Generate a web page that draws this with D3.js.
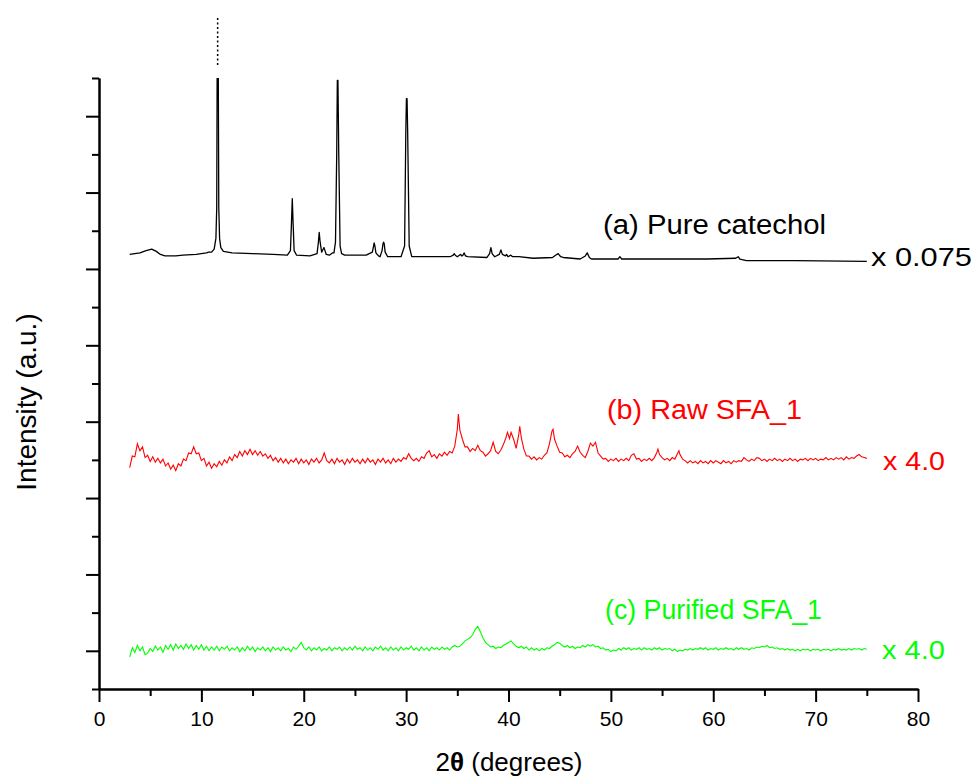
<!DOCTYPE html>
<html>
<head>
<meta charset="utf-8">
<script src="https://cdn.jsdelivr.net/npm/d3@7"></script>
<style>
  html, body { margin: 0; padding: 0; background: #fff; }
  svg { display: block; font-family: "Liberation Sans", Arial, sans-serif; }
</style>
</head>
<body>
<svg id="chart" width="974" height="779"></svg>
<script>
// ---------- data (2θ in degrees, intensity in arbitrary offset units) ----------
const xTicksMajor = [0, 10, 20, 30, 40, 50, 60, 70, 80];
const xTicksMinor = [5, 15, 25, 35, 45, 55, 65, 75];
const yTicksMajor = [0, 100, 200, 300, 400, 500, 600, 700];
const yTicksMinor = [-50, 50, 150, 250, 350, 450, 550, 650, 750];
const markerAngle = 11.59;

const catechol = [
[3.0,519],[4.0,521],[4.6,524],[5.15,526],[5.6,523],[6.0,519],[6.45,517],[7.5,517],[8.2,518],[9.5,519],[10.5,521],[10.7,522],[11.0,522],[11.25,526],[11.42,540],[11.5,580],[11.55,800],[11.64,800],[11.7,580],[11.78,540],[11.9,528],[12.15,523],[13,521],[15,520],[17,519],[18.4,518],[18.7,524],[18.8,560],[18.88,592],[18.96,560],[19.06,524],[19.3,518],[20.6,517],[21.3,520],[21.43,535],[21.51,548],[21.6,535],[21.75,522],[21.9,526],[21.97,528],[22.05,525],[22.2,519],[22.5,518],[22.8,521],[22.95,521],[23.1,535],[23.22,650],[23.28,747],[23.34,747],[23.42,650],[23.55,530],[23.7,520],[24,518],[26.1,518],[26.7,522],[26.82,530],[26.88,534],[26.95,530],[27.05,521],[27.3,517],[27.45,516],[27.65,524],[27.74,533],[27.8,535],[27.86,533],[27.95,522],[28.2,516],[29.5,516],[29.85,530],[29.97,680],[30.03,723],[30.09,723],[30.15,680],[30.3,530],[30.55,516],[34.3,516],[34.6,518],[34.7,520],[34.8,518],[35.0,516],[35.2,518],[35.32,519],[35.45,517],[35.55,518],[35.67,521],[35.8,517],[36.0,516],[37.9,515],[38.15,520],[38.28,528],[38.4,520],[38.65,516],[39.1,519],[39.26,525],[39.4,519],[39.7,517],[39.81,519],[39.95,516],[40.23,518],[40.4,516],[41.0,516],[42.4,514],[44.3,515],[44.6,518],[44.85,520],[45.1,516],[45.35,515],[47.0,513],[47.5,517],[47.69,521],[47.9,515],[48.1,513],[48.9,513],[50.7,513],[50.88,516],[51.05,513],[53,513],[56.7,513],[59.4,513],[62.2,514],[62.43,516],[62.6,513],[63.25,511],[68,511],[75,510]
];

const rawSFA = [
[3.00,240],[3.25,255],[3.50,254],[3.75,271],[4.00,262],[4.25,267],[4.50,253],[4.75,256],[5.00,248],[5.25,254],[5.50,247],[5.75,252],[6.00,246],[6.25,251],[6.50,242],[6.75,246],[7.00,238],[7.25,243],[7.50,236],[7.75,245],[8.00,242],[8.25,251],[8.50,249],[8.75,259],[9.00,258],[9.25,267],[9.50,258],[9.75,259],[10.00,249],[10.25,252],[10.50,242],[10.75,247],[11.00,239],[11.25,245],[11.50,241],[11.75,248],[12.00,243],[12.25,250],[12.50,246],[12.75,254],[13.00,249],[13.25,257],[13.50,253],[13.75,261],[14.00,255],[14.25,262],[14.50,257],[14.75,264],[15.00,257],[15.25,262],[15.50,256],[15.75,261],[16.00,255],[16.25,258],[16.50,252],[16.75,256],[17.00,249],[17.25,253],[17.50,247],[17.75,252],[18.00,246],[18.25,251],[18.50,245],[18.75,250],[19.00,247],[19.25,252],[19.50,245],[19.75,251],[20.00,246],[20.25,250],[20.50,244],[20.75,251],[21.00,247],[21.25,252],[21.50,246],[21.75,250],[22.00,259],[22.25,249],[22.50,246],[22.75,251],[23.00,245],[23.25,252],[23.50,247],[23.75,250],[24.00,244],[24.25,251],[24.50,246],[24.75,252],[25.00,247],[25.25,250],[25.50,245],[25.75,251],[26.00,246],[26.25,252],[26.50,247],[26.75,250],[27.00,244],[27.25,251],[27.50,247],[27.75,252],[28.00,246],[28.25,250],[28.50,245],[28.75,252],[29.00,247],[29.25,251],[29.50,248],[29.75,253],[30.00,251],[30.25,258],[30.50,252],[30.75,249],[31.00,252],[31.25,248],[31.50,254],[31.75,252],[32.00,259],[32.25,262],[32.50,254],[32.75,257],[33.00,252],[33.25,258],[33.50,255],[33.75,260],[34.00,256],[34.25,261],[34.50,259],[34.75,268],[35.00,290],[35.10,310],[35.25,289],[35.50,277],[35.75,267],[36.00,267],[36.25,261],[36.50,265],[36.75,262],[37.00,269],[37.25,262],[37.50,260],[37.75,255],[38.00,258],[38.25,262],[38.50,273],[38.75,261],[39.00,258],[39.25,263],[39.50,270],[39.75,279],[39.90,286],[40.00,282],[40.10,278],[40.25,286],[40.50,277],[40.75,265],[41.00,283],[41.10,294],[41.25,279],[41.50,264],[41.75,255],[42.00,255],[42.25,251],[42.50,254],[42.75,250],[43.00,253],[43.25,251],[43.50,256],[43.75,259],[44.00,271],[44.25,288],[44.35,290],[44.50,277],[44.75,268],[45.00,260],[45.25,259],[45.50,254],[45.75,256],[46.00,253],[46.25,258],[46.50,261],[46.75,268],[47.00,260],[47.25,256],[47.50,253],[47.75,261],[48.00,272],[48.25,268],[48.50,273],[48.75,259],[49.00,255],[49.25,251],[49.50,252],[49.75,248],[50.00,251],[50.25,249],[50.50,252],[50.75,248],[51.00,251],[51.25,249],[51.50,252],[51.75,249],[52.00,256],[52.25,258],[52.50,251],[52.75,252],[53.00,248],[53.25,251],[53.50,249],[53.75,252],[54.00,249],[54.25,253],[54.50,260],[54.60,264],[54.75,257],[55.00,253],[55.25,250],[55.50,252],[55.75,249],[56.00,253],[56.25,251],[56.50,258],[56.65,262],[56.75,257],[57.00,251],[57.25,249],[57.50,246],[57.75,249],[58.00,246],[58.25,248],[58.50,245],[58.75,249],[59.00,246],[59.25,248],[59.50,245],[59.75,249],[60.00,246],[60.25,249],[60.50,247],[60.75,245],[61.00,249],[61.25,246],[61.50,248],[61.75,245],[62.00,249],[62.25,247],[62.50,249],[62.75,248],[63.00,253],[63.25,250],[63.50,248],[63.75,251],[64.00,249],[64.25,253],[64.50,252],[64.75,249],[65.00,251],[65.25,248],[65.50,251],[65.75,249],[66.00,252],[66.25,249],[66.50,251],[66.75,248],[67.00,251],[67.25,249],[67.50,252],[67.75,249],[68.00,251],[68.25,248],[68.50,251],[68.75,250],[69.00,252],[69.25,249],[69.50,252],[69.75,250],[70.00,252],[70.25,249],[70.50,251],[70.75,250],[71.00,253],[71.25,250],[71.50,252],[71.75,250],[72.00,253],[72.25,251],[72.50,253],[72.75,250],[73.00,254],[73.25,251],[73.50,253],[73.75,252],[74.00,255],[74.25,257],[74.50,254],[74.75,253],[75.00,252]
];

const purifiedSFA = [
[3.00,-8],[3.25,4],[3.50,-2],[3.75,7],[4.00,0],[4.25,5],[4.50,-5],[4.75,-3],[5.00,3],[5.25,-1],[5.50,6],[5.75,1],[6.00,5],[6.25,-2],[6.50,7],[6.75,2],[7.00,8],[7.25,1],[7.50,9],[7.75,3],[8.00,7],[8.25,2],[8.50,9],[8.75,3],[9.00,8],[9.25,1],[9.50,7],[9.75,2],[10.00,8],[10.25,1],[10.50,6],[10.75,0],[11.00,5],[11.25,1],[11.50,6],[11.75,0],[12.00,5],[12.25,2],[12.50,6],[12.75,0],[13.00,4],[13.25,1],[13.50,5],[13.75,-1],[14.00,4],[14.25,0],[14.50,6],[14.75,1],[15.00,5],[15.25,-1],[15.50,4],[15.75,1],[16.00,5],[16.25,0],[16.50,4],[16.75,-1],[17.00,5],[17.25,1],[17.50,4],[17.75,0],[18.00,5],[18.25,1],[18.50,3],[18.75,-1],[19.00,5],[19.25,2],[19.50,6],[19.75,11],[20.00,4],[20.25,1],[20.50,5],[20.75,0],[21.00,4],[21.25,1],[21.50,5],[21.75,0],[22.00,3],[22.25,1],[22.50,5],[22.75,0],[23.00,4],[23.25,2],[23.50,5],[23.75,0],[24.00,4],[24.25,1],[24.50,5],[24.75,1],[25.00,6],[25.25,2],[25.50,4],[25.75,0],[26.00,5],[26.25,1],[26.50,4],[26.75,0],[27.00,5],[27.25,2],[27.50,6],[27.75,1],[28.00,4],[28.25,0],[28.50,5],[28.75,1],[29.00,4],[29.25,0],[29.50,5],[29.75,1],[30.00,4],[30.25,2],[30.50,6],[30.75,1],[31.00,4],[31.25,0],[31.50,5],[31.75,1],[32.00,4],[32.25,0],[32.50,5],[32.75,2],[33.00,4],[33.25,1],[33.50,5],[33.75,2],[34.00,4],[34.25,1],[34.50,5],[34.75,7],[35.00,5],[35.25,6],[35.50,9],[35.75,13],[36.00,15],[36.25,17],[36.50,21],[36.75,28],[37.00,32],[37.25,25],[37.50,17],[37.75,11],[38.00,8],[38.25,5],[38.50,6],[38.75,3],[39.00,5],[39.25,4],[39.50,7],[39.75,9],[40.00,11],[40.25,13],[40.50,9],[40.75,6],[41.00,4],[41.25,6],[41.50,3],[41.75,5],[42.00,1],[42.25,4],[42.50,1],[42.75,3],[43.00,0],[43.25,3],[43.50,1],[43.75,4],[44.00,3],[44.25,6],[44.50,8],[44.75,11],[45.00,10],[45.25,7],[45.50,5],[45.75,7],[46.00,4],[46.25,6],[46.50,3],[46.75,5],[47.00,4],[47.25,7],[47.50,5],[47.75,8],[48.00,6],[48.25,8],[48.50,5],[48.75,6],[49.00,3],[49.25,4],[49.50,1],[49.75,2],[50.00,-1],[50.25,1],[50.50,0],[50.75,3],[51.00,1],[51.25,4],[51.50,2],[51.75,4],[52.00,1],[52.25,3],[52.50,2],[52.75,4],[53.00,1],[53.25,4],[53.50,2],[53.75,3],[54.00,1],[54.25,4],[54.50,2],[54.75,4],[55.00,1],[55.25,3],[55.50,2],[55.75,3],[56.00,0],[56.25,2],[56.50,-1],[56.75,1],[57.00,0],[57.25,2],[57.50,1],[57.75,3],[58.00,1],[58.25,3],[58.50,2],[58.75,4],[59.00,2],[59.25,4],[59.50,1],[59.75,3],[60.00,2],[60.25,4],[60.50,1],[60.75,3],[61.00,2],[61.25,4],[61.50,2],[61.75,3],[62.00,1],[62.25,4],[62.50,2],[62.75,4],[63.00,2],[63.25,3],[63.50,1],[63.75,4],[64.00,3],[64.25,5],[64.50,4],[64.75,6],[65.00,5],[65.25,7],[65.50,4],[65.75,5],[66.00,3],[66.25,4],[66.50,2],[66.75,3],[67.00,1],[67.25,3],[67.50,1],[67.75,2],[68.00,0],[68.25,2],[68.50,0],[68.75,2],[69.00,1],[69.25,2],[69.50,0],[69.75,2],[70.00,1],[70.25,2],[70.50,0],[70.75,2],[71.00,1],[71.25,2],[71.50,0],[71.75,2],[72.00,1],[72.25,3],[72.50,1],[72.75,2],[73.00,1],[73.25,3],[73.50,1],[73.75,3],[74.00,2],[74.25,3],[74.50,1],[74.75,3],[75.00,2]
];

const seriesLabels = ["(a) Pure catechol", "(b) Raw SFA_1", "(c) Purified SFA_1"];
const scaleLabels = ["x 0.075", "x 4.0", "x 4.0"];
const seriesColors = ["#000000", "#ff0000", "#00ff00"];

// ---------- layout ----------
const svg = d3.select("#chart");
const x = d3.scaleLinear().domain([0, 80]).range([99, 918]);
const y = d3.scaleLinear().domain([-50, 750]).range([689, 78]);

svg.append("defs").append("clipPath").attr("id", "plotclip")
  .append("rect").attr("x", 99).attr("y", 78).attr("width", 819).attr("height", 611);

const line = d3.line().x(d => x(d[0])).y(d => y(d[1]));

const plot = svg.append("g").attr("clip-path", "url(#plotclip)");
plot.append("path").datum(purifiedSFA).attr("d", line)
  .attr("fill", "none").attr("stroke", seriesColors[2]).attr("stroke-width", 1.1);
plot.append("path").datum(rawSFA).attr("d", line)
  .attr("fill", "none").attr("stroke", seriesColors[1]).attr("stroke-width", 1.1);
plot.append("path").datum(catechol).attr("d", line)
  .attr("fill", "none").attr("stroke", seriesColors[0]).attr("stroke-width", 1.3)
  .attr("stroke-linejoin", "round");

// dotted marker above main peak
svg.append("line")
  .attr("x1", x(markerAngle)).attr("x2", x(markerAngle))
  .attr("y1", 18).attr("y2", 66)
  .attr("stroke", "#000").attr("stroke-width", 1.5)
  .attr("stroke-dasharray", "2,2.5");

// ---------- axes ----------
const xMajor = d3.axisBottom(x).tickValues(xTicksMajor).tickSize(13).tickSizeOuter(0).tickPadding(9).tickFormat(d3.format("d"));
const xMinor = d3.axisBottom(x).tickValues(xTicksMinor).tickSize(7).tickSizeOuter(0).tickFormat("");
const yMajor = d3.axisLeft(y).tickValues(yTicksMajor).tickSize(13).tickSizeOuter(0).tickFormat("");
const yMinor = d3.axisLeft(y).tickValues(yTicksMinor).tickSize(7).tickSizeOuter(0).tickFormat("");

function styleAxis(g) {
  g.select(".domain").attr("stroke", "#000").attr("stroke-width", 2);
  g.selectAll(".tick line").attr("stroke", "#000").attr("stroke-width", 2);
  g.selectAll(".tick text").attr("fill", "#000")
    .style("font-family", '"Liberation Sans", Arial, sans-serif').style("font-size", "21px");
}

svg.append("g").attr("transform", "translate(0,689)").call(xMinor).call(styleAxis);
svg.append("g").attr("transform", "translate(0,689)").call(xMajor).call(styleAxis);
svg.append("g").attr("transform", "translate(99,0)").call(yMinor).call(styleAxis);
svg.append("g").attr("transform", "translate(99,0)").call(yMajor).call(styleAxis);

// axis titles
const xTitle = svg.append("text")
  .attr("x", 509).attr("y", 771).attr("text-anchor", "middle")
  .style("font-size", "26px").attr("fill", "#000");
xTitle.append("tspan").text("2");
xTitle.append("tspan").text("θ").style("font-weight", "bold");
xTitle.append("tspan").text(" (degrees)");

svg.append("text")
  .attr("transform", "translate(36,402) rotate(-90)")
  .attr("text-anchor", "middle")
  .style("font-size", "28px").attr("fill", "#000")
  .text("Intensity (a.u.)");

// ---------- series annotations ----------
const labelPos = [
  {x: 603, y: 234, len: 223},
  {x: 607, y: 419, len: 195},
  {x: 605, y: 619, len: 217}
];
const scalePos = [
  {x: 871, y: 266, len: 101},
  {x: 883, y: 470, len: 62},
  {x: 882, y: 659, len: 63}
];
seriesLabels.forEach((t, i) => {
  svg.append("text").attr("x", labelPos[i].x).attr("y", labelPos[i].y)
    .attr("textLength", labelPos[i].len).attr("lengthAdjust", "spacingAndGlyphs")
    .style("font-size", "27px").attr("fill", seriesColors[i]).text(t);
  svg.append("text").attr("x", scalePos[i].x).attr("y", scalePos[i].y)
    .attr("textLength", scalePos[i].len).attr("lengthAdjust", "spacingAndGlyphs")
    .style("font-size", "26px").attr("fill", seriesColors[i]).text(scaleLabels[i]);
});
</script>
</body>
</html>
